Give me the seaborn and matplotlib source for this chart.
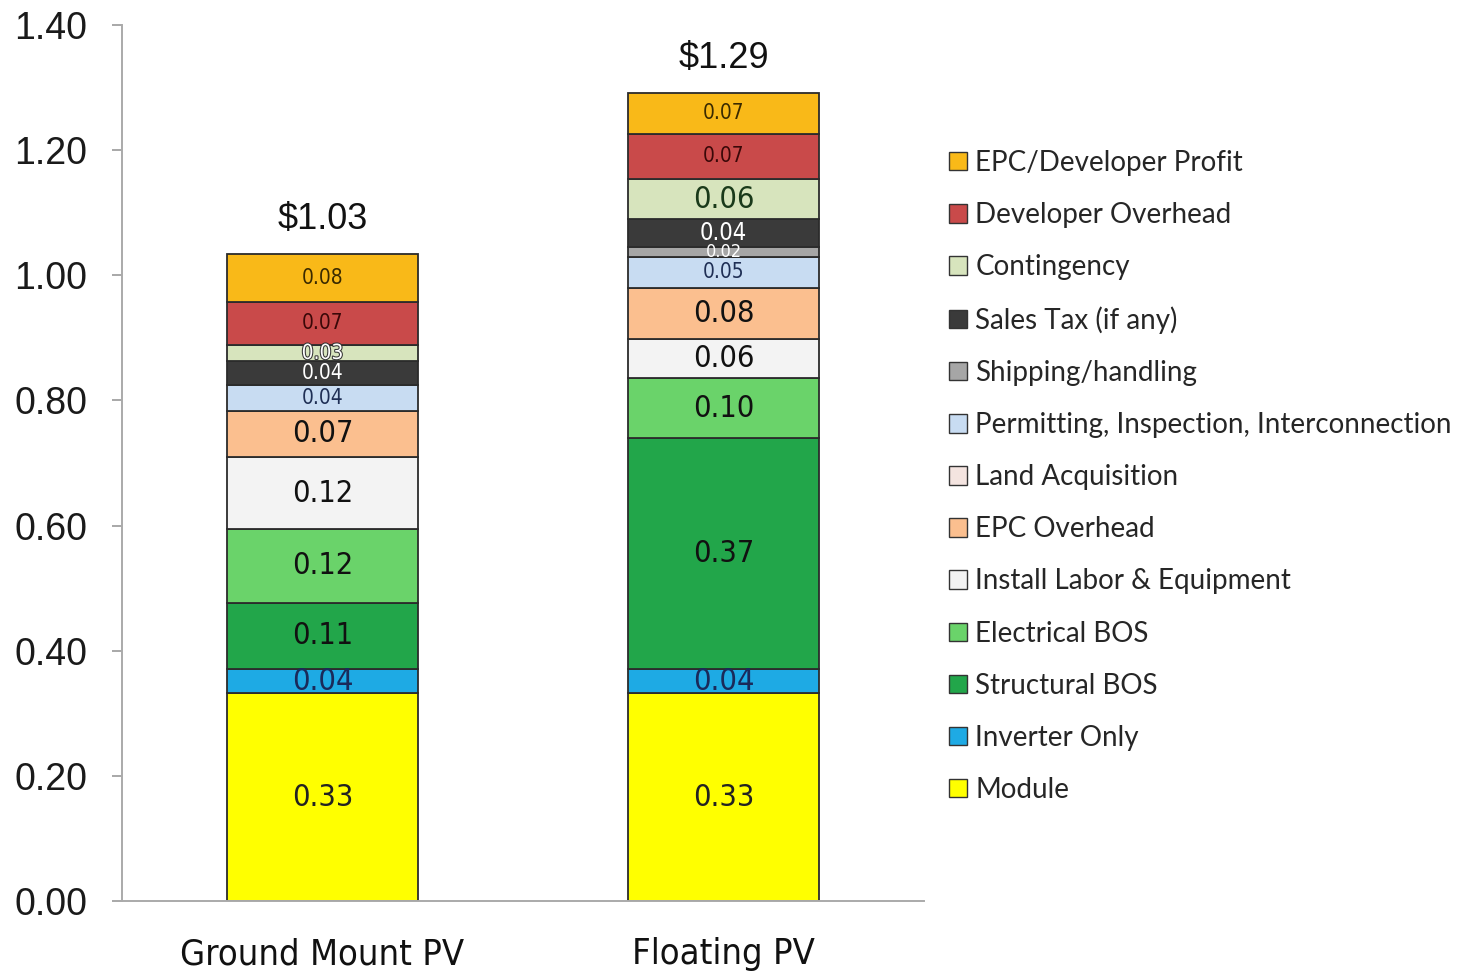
import numpy as np
import matplotlib
matplotlib.use("Agg")
import matplotlib.pyplot as plt
import matplotlib.patheffects as pe
from matplotlib.patches import Patch
import seaborn as sns

sns.set_theme(style="white")
plt.rcParams['font.family'] = ['Liberation Sans', 'DejaVu Sans']

# data, bottom-up stacking order
bars = ["Ground Mount PV", "Floating PV"]
components = ["Module", "Inverter Only", "Structural BOS", "Electrical BOS",
              "Install Labor & Equipment", "EPC Overhead", "Land Acquisition",
              "Permitting, Inspection, Interconnection", "Shipping/handling",
              "Sales Tax (if any)", "Contingency", "Developer Overhead",
              "EPC/Developer Profit"]
ground = [0.332, 0.039, 0.106, 0.117, 0.116, 0.073, 0.0, 0.042, 0.0, 0.038, 0.026, 0.069, 0.076]
floating = [0.332, 0.039, 0.369, 0.096, 0.063, 0.081, 0.0, 0.050, 0.016, 0.044, 0.064, 0.072, 0.066]
totals = ["$1.03", "$1.29"]
yticks = [0.0, 0.2, 0.4, 0.6, 0.8, 1.0, 1.2, 1.4]

colors = ["#FFFF00", "#1EAAE4", "#22A64A", "#6AD36A", "#F3F3F3", "#FBBF8F",
          "#F4E4E0", "#C8DCF2", "#A6A6A6", "#3A3A3A", "#D7E4BD", "#C94A4A", "#F9B918"]
text_colors = ["#222", "#1a2a5a", "#111", "#111", "#111", "#111", "#111",
               "#1f2f55", "#fff", "#fff", "#1a3a1a", "#3a0808", "#3a2a00"]
# segments drawn with the small label font (bar index, component index)
small = {(0, 7), (0, 9), (0, 10), (0, 11), (0, 12),
         (1, 7), (1, 8), (1, 11), (1, 12)}
label_family = ["Liberation Sans Narrow", "DejaVu Sans"]

fig = plt.figure(figsize=(14.62, 9.76), dpi=100)
ax = fig.add_axes([0.0834, 0.0768, 0.5486, 0.8975])

vals = np.array([ground, floating])
bottom = np.zeros(2)
for j, comp in enumerate(components):
    h = vals[:, j]
    sns.barplot(x=bars, y=h, bottom=bottom, color=colors[j], saturation=1,
                width=0.475, edgecolor="#2b2b2b", linewidth=1.3, errorbar=None, ax=ax)
    for i in range(2):
        if h[i] <= 0:
            continue
        fs = 15 if (i, j) in small else 22
        if (i, j) == (1, 9):
            fs = 17
        if (i, j) == (1, 8):
            fs = 13
        tc = text_colors[j]
        txt = ax.text(i, bottom[i] + h[i] / 2, f"{h[i]:.2f}", ha="center", va="center",
                      fontsize=fs, color=tc if (i, j) != (0, 10) else "#fff",
                      family=label_family, fontstretch="condensed")
        if (i, j) == (0, 10):
            txt.set_path_effects([pe.withStroke(linewidth=1.5, foreground="#333")])
    bottom = bottom + h

for i in range(2):
    ax.annotate(totals[i], (i, bottom[i]), xytext=(0, 12), textcoords="offset points",
                ha="center", va="bottom", fontsize=26, color="#111")

ax.set_xlim(-0.5, 1.5)
ax.set_ylim(0, 1.4)
ax.set_yticks(yticks)
ax.set_yticklabels([f"{t:.2f}" for t in yticks], fontsize=27, color="#1a1a1a")
ax.set_xticks([0, 1])
ax.set_xticklabels(bars, fontsize=26, color="#111", family=label_family, fontstretch="condensed")
ax.set_xticks([-0.5, 0.5, 1.5], minor=True)
ax.tick_params(axis="x", which="major", length=0, pad=26)
ax.tick_params(axis="x", which="minor", length=11, width=1.2, color="#999", direction="out")
ax.tick_params(axis="y", length=7, width=1.2, color="#999", direction="out", left=True, pad=18)
ax.set_xlabel("")
ax.set_ylabel("")
for s in ["top", "right"]:
    ax.spines[s].set_visible(False)
for s in ["left", "bottom"]:
    ax.spines[s].set_color("#aaa")
    ax.spines[s].set_linewidth(1.4)

handles = [Patch(facecolor=colors[j], edgecolor="#333", linewidth=1, label=components[j])
           for j in range(len(components))][::-1]
fig.legend(handles=handles, loc="upper left", bbox_to_anchor=(0.632, 0.872),
           frameon=False, prop={"family": ["Lato", "DejaVu Sans"], "size": 20},
           handlelength=0.65, handleheight=0.65, handletextpad=0.3, labelspacing=0.94)

fig.savefig("out.png", dpi=100)
